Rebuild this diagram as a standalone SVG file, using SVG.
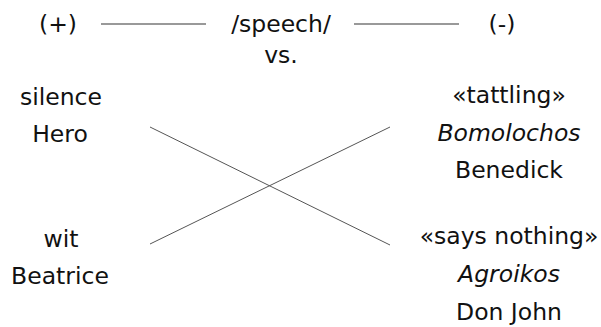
<svg xmlns="http://www.w3.org/2000/svg" width="601" height="327" viewBox="0 0 601 327">
<style>
text{font-family:"DejaVu Sans",sans-serif;font-size:23.5px;fill:#111;text-anchor:middle}
.it{font-style:italic}
.c{stroke:#555;stroke-width:1;fill:none}
.h{stroke:#777;stroke-width:1.3;fill:none}
</style>
<rect width="601" height="327" fill="#fff"/>
<g id="plus"><text x="58" y="32">(+)</text></g>
<g id="speech"><text x="281" y="32">/speech/</text><text x="281" y="63">vs.</text></g>
<g id="minus"><text x="502" y="32">(-)</text></g>
<g id="silence"><text x="61" y="105">silence</text><text x="60" y="142">Hero</text></g>
<g id="wit"><text x="61" y="247">wit</text><text x="60" y="284">Beatrice</text></g>
<g id="tattling"><text x="509" y="103">«tattling»</text><text x="509" y="141" class="it">Bomolochos</text><text x="509" y="178">Benedick</text></g>
<g id="saysnothing"><text x="509" y="244">«says nothing»</text><text x="509" y="282" class="it">Agroikos</text><text x="509" y="320">Don John</text></g>
<g id="connectors">
<line class="h" x1="101" y1="24" x2="206" y2="24"/>
<line class="h" x1="354" y1="24" x2="459" y2="24"/>
<line class="c" x1="150" y1="127" x2="390" y2="245"/>
<line class="c" x1="150" y1="244" x2="390" y2="127"/>
</g>
</svg>
